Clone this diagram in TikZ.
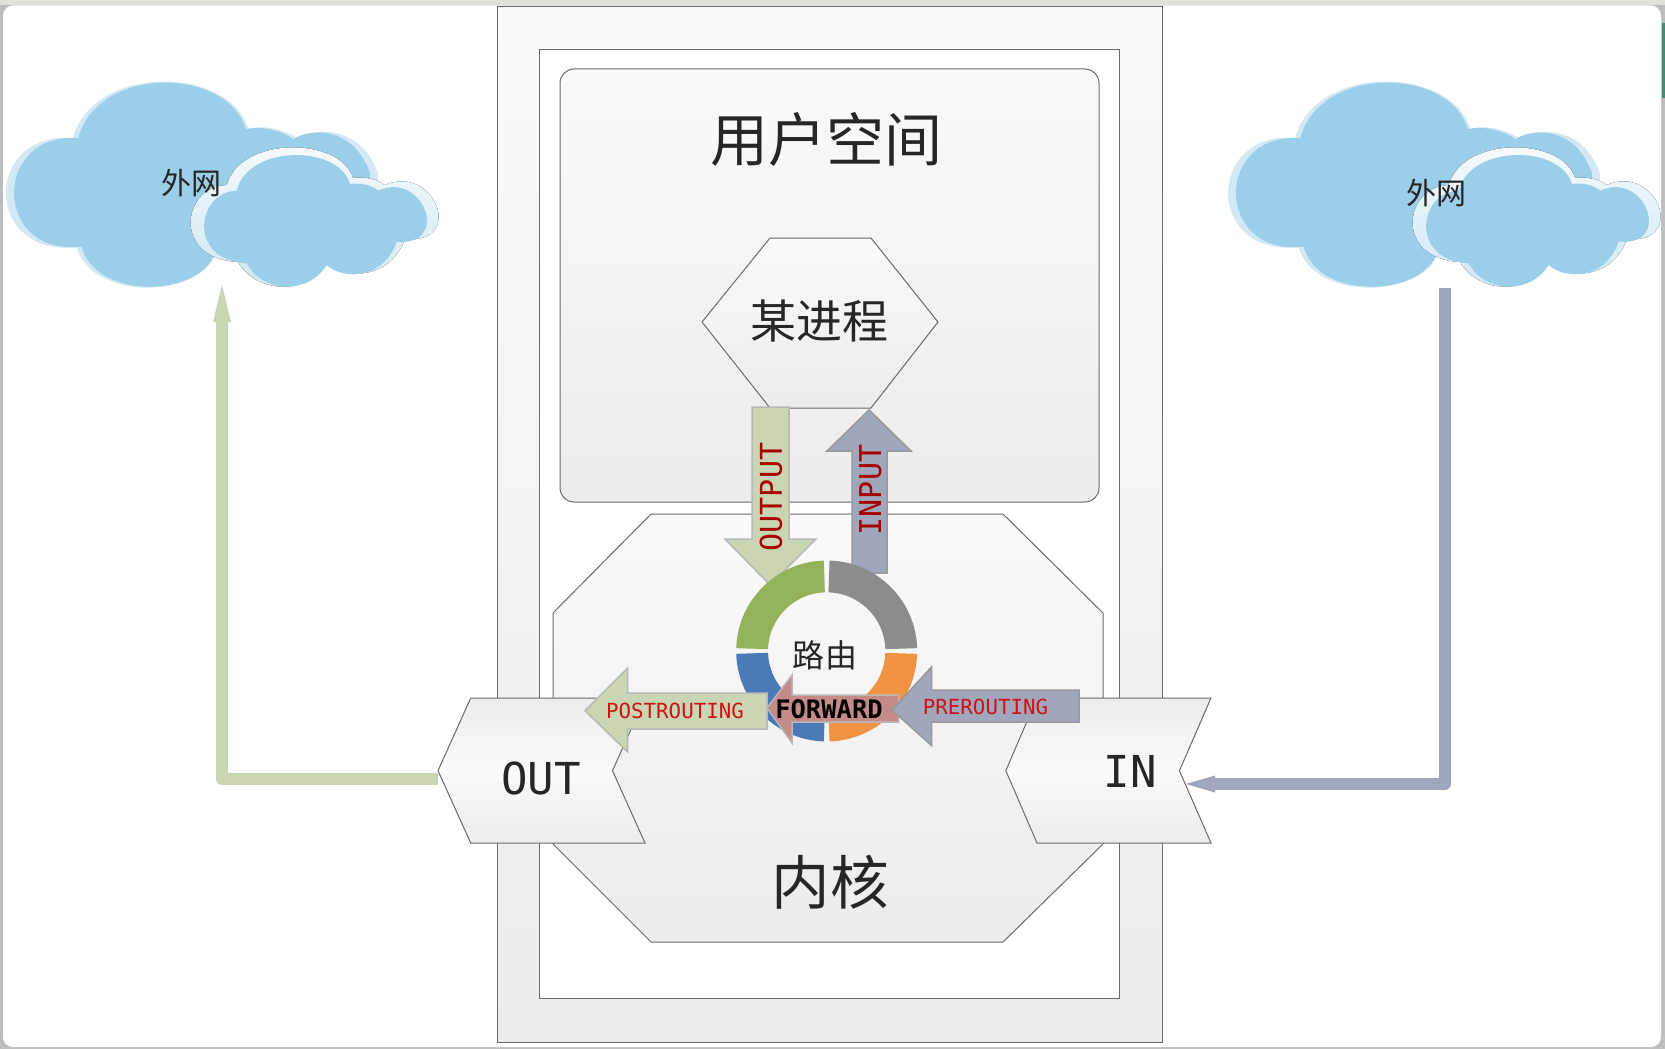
\documentclass[tikz,border=0pt]{standalone}
\usepackage{fontspec}
\setmonofont{DejaVu Sans Mono}
\newfontfamily\cjk{Noto Sans CJK SC}
\usetikzlibrary{arrows.meta}

\definecolor{framegray}{HTML}{BDBDBD}
\definecolor{framebeige}{HTML}{E3E0DA}
\definecolor{framegreen}{HTML}{3E9070}
\definecolor{edgegray}{HTML}{6A6A6A}
\definecolor{paneltop}{HTML}{FAFAFA}
\definecolor{panellow}{HTML}{ECECEC}
\definecolor{cloudblue}{HTML}{9BCEE9}
\definecolor{outgreen}{HTML}{C9D5B3}
\definecolor{ingray}{HTML}{A0A6BB}
\definecolor{fwdred}{HTML}{C58B87}
\definecolor{labelred}{HTML}{CC1414}
\definecolor{ringgreen}{HTML}{94B25A}
\definecolor{ringgray}{HTML}{8C8C8C}
\definecolor{ringorange}{HTML}{F09342}
\definecolor{ringblue}{HTML}{4A7AB8}

\tikzset{
    panel/.style={draw=edgegray, line width=1pt, top color=paneltop, bottom color=panellow},
    notchbox/.style={draw=edgegray, line width=1pt, top color=panellow, bottom color=panellow, middle color=white!98!black},
    blockgreen/.style={fill=outgreen, draw=black!28, line width=1.5pt},
    blockgray/.style={fill=ingray, draw=black!40, line width=1.5pt},
    blockred/.style={fill=fwdred, draw=black!28, line width=1.5pt},
    bigtext/.style={font=\cjk\fontsize{#1}{#1}\selectfont, text=black!85, inner sep=0pt},
    monotext/.style={font=\ttfamily\fontsize{44}{44}\selectfont, text=black!85, inner sep=0pt},
    chaintext/.style={font=\ttfamily\fontsize{#1}{#1}\selectfont, text=labelred, inner sep=0pt},
    netline/.style={line width=12pt, line join=round}
}

\newcommand{\backcloud}{(245,560) .. controls (-24,590) and (-24,215) .. (235,235)
    .. controls (290,17) and (680,17) .. (738,208)
    .. controls (790,195) and (850,215) .. (880,238)
    .. controls (925,205) and (1060,195) .. (1110,340)
    -- (1110,400) -- (640,590)
    .. controls (580,715) and (285,715) .. (245,560) -- cycle}
\newcommand{\frontcloud}{(740,610) .. controls (560,600) and (590,395) .. (710,392)
    .. controls (745,253) and (1015,253) .. (1050,372)
    .. controls (1085,368) and (1115,375) .. (1135,392)
    .. controls (1270,330) and (1355,560) .. (1190,545)
    .. controls (1150,660) and (1030,660) .. (980,615)
    .. controls (925,705) and (790,700) .. (740,610) -- cycle}

\begin{document}
\begin{tikzpicture}[x=1pt, y=-1pt]
    \useasboundingbox (0,0) rectangle (1665,1049);
    \fill [framegray] (0,0) rectangle (1665,1049);
    \fill [framebeige] (0,0) rectangle (1665,5);
    \fill [framegreen] (1662,23) rectangle (1665,98);
    \fill [white, rounded corners=10pt] (3,5.5) -- (3,1047) -- (1661,1047) -- (1661,5.5) -- cycle;

    \draw [panel] (497,7) rectangle (1162,1042);
    \draw [draw=edgegray, line width=1pt, fill=white] (539.5,50) rectangle (1119,998);
    \draw [panel, rounded corners=14pt] (560,69) rectangle (1099,502);
    \draw [panel] (702,322) -- (770,238) -- (871,238) -- (938,322) -- (871,408) -- (770,408) -- cycle;
    \draw [panel] (651,514) -- (1003,514) -- (1103,613) -- (1103,844) -- (1003,942)
        -- (651,942) -- (553,844) -- (553,613) -- cycle;

    \coordinate (outTip) at (438,779);
    \coordinate (inEnd) at (1186,784);
    \coordinate (leftCloud) at (222,285);
    \coordinate (rightCloud) at (1445,288);
    \draw [netline, outgreen, -{Triangle[width=18pt, length=37pt, line width=0pt]}] (outTip) -| (leftCloud);
    \draw [netline, ingray, -{Triangle[width=17pt, length=29pt, line width=0pt]}] (rightCloud) |- (inEnd);

    \draw [notchbox] (470.7,698) -- (645,698) -- (612.5,770.7) -- (645,843) -- (470.7,843) -- (438,770.7) -- cycle;
    \draw [notchbox] (1037,698) -- (1211,698) -- (1179.4,770.7) -- (1211,843) -- (1037,843) -- (1005.8,770.7) -- cycle;

    \foreach \dx in {0,1222} {
        \begin{scope}[shift={(\dx,60)}, scale=0.3333]
            \begin{scope}[shift={(-26,-4)}, xscale=1.045, yscale=1.01]
                \fill [cloudblue!45!white] \backcloud;
            \end{scope}
            \fill [cloudblue] \backcloud;
            \begin{scope}[shift={(-109.6,-39.4)}, xscale=1.113, yscale=1.058]
                \fill [top color=white!92!cloudblue, bottom color=cloudblue!50!white] \frontcloud;
            \end{scope}
            \fill [cloudblue] \frontcloud;
        \end{scope}
    }

    \draw [blockgreen] (752,407) -- (789,407) -- (789,539) -- (816,539) -- (770,585) -- (725,539) -- (752,539) -- cycle;
    \draw [blockgray] (852,573) -- (852,451) -- (827,451) -- (869,410) -- (911,451) -- (887,451) -- (887,573) -- cycle;

    \coordinate (ringC) at (826.7,651);
    \foreach \a/\b/\c in {181.8/268.2/ringgreen, 271.8/358.2/ringgray, 1.8/88.2/ringorange, 91.8/178.2/ringblue} {
        \fill [\c] ([shift={(\a:90.5)}]ringC) arc [start angle=\a, end angle=\b, radius=90.5]
            -- ([shift={(\b:58.7)}]ringC) arc [start angle=\b, end angle=\a, radius=58.7] -- cycle;
    }

    \draw [blockgreen] (767,693) -- (627.6,693) -- (627.6,668) -- (585,710.7) -- (627.6,752) -- (627.6,729) -- (767,729) -- cycle;
    \draw [blockred] (898.5,695) -- (792,695) -- (792,675) -- (767,708) -- (792,743) -- (792,722) -- (898.5,722) -- cycle;
    \draw [blockgray] (1079,690) -- (931.5,690) -- (931.5,667) -- (892,710) -- (931.5,745.5) -- (931.5,722) -- (1079,722) -- cycle;

    \node [bigtext=58] (userLabel) at (826,139) {用户空间};
    \node [bigtext=46] (procLabel) at (819.5,321) {某进程};
    \node [bigtext=58.5] (kernelLabel) at (830,882) {内核};
    \node [bigtext=32] (routeLabel) at (825,655) {路\hspace{1.5pt}由};
    \node [bigtext=30] (leftNet) at (191,183) {外网};
    \node [bigtext=30] (rightNet) at (1436,193) {外网};
    \node [monotext] (outLabel) at (541,778) {OUT};
    \node [monotext] (inLabel) at (1130,771) {IN};
    \node [chaintext=20.8] (postLabel) at (675,711) {POSTROUTING};
    \node [chaintext=20.8] (preLabel) at (985.5,707) {PREROUTING};
    \node [chaintext=25.5, text=black, font=\ttfamily\bfseries\fontsize{25.5}{25.5}\selectfont] (fwdLabel) at (829,709) {FORWARD};
    \node [chaintext=30, rotate=90, text=red!65!black] (outputLabel) at (771,497) {OUTPUT};
    \node [chaintext=30, rotate=90, text=red!65!black] (inputLabel) at (870.5,490) {INPUT};
\end{tikzpicture}
\end{document}
